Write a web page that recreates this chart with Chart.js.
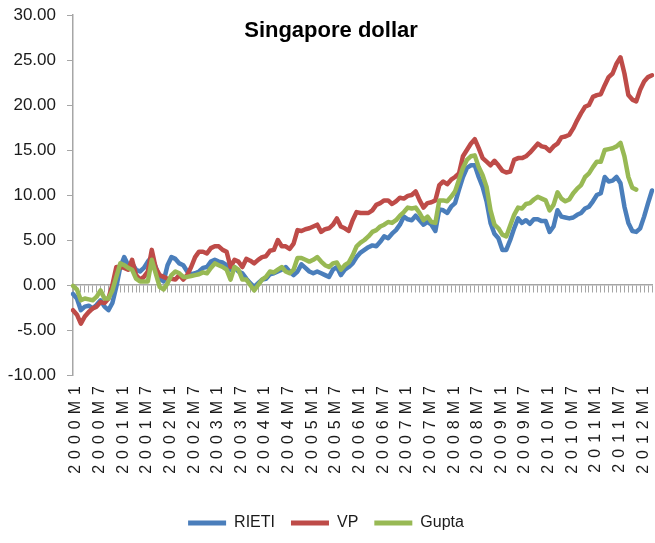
<!DOCTYPE html>
<html>
<head>
<meta charset="utf-8">
<script src="https://cdn.jsdelivr.net/npm/chart.js@4.4.0/dist/chart.umd.min.js"></script>
<style>
  html, body { margin: 0; padding: 0; background: #fff; }
  #wrap { position: relative; width: 655px; height: 543px; }
  #title {
    position: absolute; left: 0; top: 17px; width: 662px; text-align: center;
    font: bold 22px "Liberation Sans", sans-serif; color: #000;
  }
</style>
</head>
<body>
<div id="wrap">
  <canvas id="chart" width="655" height="543"></canvas>
  <div id="title">Singapore dollar</div>
</div>
<script>
// monthly, 2000M1 .. 2012M4
const firstYear = 2000;
const monthCount = 148;

const rieti = [
  -1.0, -1.5, -2.8, -2.4, -2.3, -2.6, -2.2, -1.7, -2.4, -2.8, -2.0, -0.2,
  2.0, 3.1, 2.2, 2.4, 1.7, 1.5, 1.9, 2.6, 3.1, 2.0, 0.7, 0.4,
  2.2, 3.1, 2.9, 2.4, 2.2, 1.5, 1.2, 1.3, 1.5, 1.9, 2.0, 2.6,
  2.8, 2.6, 2.5, 2.2, 1.7, 2.0, 1.5, 1.3, 0.7, 0.2, -0.2, 0.2,
  0.6, 0.7, 1.2, 1.3, 1.5, 1.7, 2.0, 1.5, 1.1, 1.5, 2.3, 1.9,
  1.5, 1.3, 1.5, 1.3, 1.1, 0.9, 1.7, 2.0, 1.1, 1.7, 2.0, 2.4,
  3.1, 3.6, 3.9, 4.2, 4.4, 4.3, 4.8, 5.4, 5.2, 5.7, 6.1, 6.7,
  7.6, 7.3, 7.2, 7.7, 7.2, 6.7, 7.0, 6.7, 6.0, 8.4, 8.3, 8.0,
  8.7, 9.1, 10.6, 12.0, 13.0, 13.3, 13.3, 12.0, 10.9, 9.3, 6.9, 5.7,
  5.2, 3.9, 3.9, 5.0, 6.3, 7.4, 6.9, 7.2, 6.8, 7.3, 7.3, 7.1,
  7.1, 5.9, 6.5, 8.3, 7.6, 7.5, 7.4, 7.5, 7.8, 8.0, 8.5, 8.7,
  9.3, 10.0, 10.2, 12.0, 11.5, 11.6, 12.0, 11.3, 8.7, 6.9, 6.0, 5.9,
  6.3, 7.6, 9.1, 10.5
];

const vp = [
  -2.8, -3.3, -4.3, -3.5, -3.0, -2.6, -2.4, -1.9, -2.0, -1.5, 0.0, 2.0,
  2.0, 1.9, 1.7, 2.8, 1.1, 0.6, 0.9, 1.5, 3.9, 1.9, 1.1, 0.9,
  0.7, 0.7, 0.6, 1.1, 0.6, 1.1, 2.0, 3.1, 3.7, 3.7, 3.5, 4.1,
  4.3, 4.3, 3.9, 3.7, 2.0, 2.8, 2.6, 2.0, 2.9, 2.7, 2.4, 2.8,
  3.1, 3.2, 3.8, 3.9, 5.0, 4.3, 4.3, 4.0, 4.6, 6.1, 6.0, 6.2,
  6.3, 6.5, 6.7, 5.9, 6.2, 6.3, 6.7, 7.4, 6.5, 6.3, 6.0, 7.2,
  8.1, 8.0, 8.0, 8.0, 8.3, 8.9, 9.1, 9.4, 9.4, 9.0, 9.3, 9.7,
  9.6, 9.9, 10.0, 10.4, 9.4, 8.6, 9.1, 9.2, 9.4, 11.1, 11.5, 11.2,
  11.7, 12.0, 12.4, 14.3, 15.0, 15.7, 16.2, 15.2, 14.1, 13.7, 13.3, 13.8,
  13.3, 12.7, 12.5, 12.6, 13.9, 14.1, 14.1, 14.3, 14.7, 15.2, 15.7, 15.4,
  15.3, 14.9, 15.4, 15.7, 16.4, 16.5, 16.7, 17.4, 18.3, 19.1, 19.8, 20.0,
  20.9, 21.1, 21.2, 22.2, 23.1, 23.5, 24.6, 25.3, 23.5, 21.1, 20.6, 20.4,
  21.7, 22.6, 23.1, 23.3
];

const gupta = [
  -0.1, -0.5, -1.7, -1.5, -1.6, -1.7, -1.3, -0.6, -1.5, -1.5, -0.6, 0.9,
  2.4, 2.2, 1.9, 1.7, 0.7, 0.4, 0.4, 0.4, 2.8, 1.3, -0.2, -0.5,
  0.2, 1.1, 1.5, 1.3, 0.9, 0.9, 1.0, 1.1, 1.2, 1.4, 1.3, 1.9,
  2.4, 2.2, 2.0, 1.7, 0.6, 2.0, 1.7, 0.6, 0.6, 0.0, -0.6, 0.0,
  0.6, 0.9, 1.5, 1.4, 1.7, 2.0, 1.5, 1.3, 1.7, 3.0, 3.0, 2.8,
  2.6, 2.8, 3.1, 2.6, 2.2, 2.0, 2.4, 2.5, 1.7, 2.2, 2.5, 3.3,
  4.3, 4.7, 5.0, 5.4, 5.9, 6.1, 6.5, 6.7, 7.0, 6.9, 7.2, 7.7,
  8.1, 8.6, 8.5, 8.6, 8.0, 7.2, 7.6, 7.0, 6.9, 9.4, 9.4, 9.3,
  9.8, 10.4, 11.7, 13.0, 13.9, 14.3, 14.4, 13.1, 12.2, 10.9, 8.3, 6.7,
  6.3, 5.6, 5.4, 6.6, 7.8, 8.6, 8.5, 9.0, 9.1, 9.5, 9.8, 9.6,
  9.4, 8.3, 8.9, 10.3, 9.6, 9.3, 9.5, 10.2, 10.7, 11.1, 12.0, 12.4,
  13.1, 13.7, 13.7, 15.0, 15.1, 15.2, 15.4, 15.8, 14.3, 12.0, 10.8, 10.6
];

const months = [];
for (let i = 0; i < monthCount; i++) {
  months.push((firstYear + Math.floor(i / 12)) + 'M' + (i % 12 + 1));
}

const yTicks = { min: -10, max: 30, step: 5 };

// category axis whose labels are drawn letter-spaced, like the Excel original
const BaseCategory = Chart.CategoryScale || Chart.registry.getScale('category');
class SpacedCategory extends BaseCategory {
  drawLabels(area) {
    this.ctx.save();
    this.ctx.letterSpacing = '6px';
    super.drawLabels(area);
    this.ctx.restore();
  }
}
SpacedCategory.id = 'spacedCategory';
SpacedCategory.defaults = BaseCategory.defaults;
Chart.register(SpacedCategory);

const sans = "'Liberation Sans', sans-serif";
const axisGrey = '#a6a6a6';
const textCol = '#1a1a1a';

function line(label, data, color, order) {
  return {
    label: label, data: data, order: order,
    borderColor: color, backgroundColor: color,
    borderWidth: 4.5, pointRadius: 0, pointHoverRadius: 0, tension: 0,
    borderJoinStyle: 'round', borderCapStyle: 'round'
  };
}

new Chart(document.getElementById('chart'), {
  type: 'line',
  data: {
    labels: months,
    datasets: [
      line('RIETI', rieti, '#4a7ebb', 3),
      line('VP', vp, '#be4b48', 2),
      line('Gupta', gupta, '#98b954', 1)
    ]
  },
  options: {
    responsive: false,
    animation: false,
    devicePixelRatio: 1,
    layout: { padding: { top: 15, right: 3, left: 0, bottom: 2 } },
    plugins: {
      tooltip: { enabled: false },
      legend: {
        position: 'bottom',
        labels: {
          boxWidth: 38, boxHeight: 5, padding: 16, color: textCol,
          font: { family: sans, size: 16 },
          sort: (a, b) => a.datasetIndex - b.datasetIndex,
          generateLabels: chart => Chart.defaults.plugins.legend.labels.generateLabels(chart)
            .map(l => Object.assign(l, { fillStyle: l.strokeStyle, lineWidth: 0 }))
        }
      }
    },
    scales: {
      x: {
        type: 'spacedCategory',
        position: 'bottom',
        offset: false,
        grid: { display: false, drawTicks: false },
        border: { display: false },
        ticks: {
          autoSkip: false, minRotation: 90, maxRotation: 90, padding: 5, labelOffset: 3,
          color: textCol, font: { family: sans, size: 16 },
          callback: function (v, i) { return i % 6 === 0 ? this.getLabelForValue(v) : null; }
        },
        afterFit: s => { s.height = 124; s.paddingLeft = 0; s.paddingRight = 0; }
      },
      x0: {
        type: 'category',
        position: { y: 0 },
        offset: false,
        ticks: { display: false },
        grid: { drawOnChartArea: false, drawTicks: true, tickLength: 7, color: axisGrey },
        border: { color: axisGrey, width: 1.5 }
      },
      y: {
        min: yTicks.min, max: yTicks.max,
        ticks: {
          stepSize: yTicks.step, padding: 11, color: textCol,
          font: { family: sans, size: 17 },
          callback: v => v.toFixed(2)
        },
        grid: { drawOnChartArea: false, drawTicks: true, tickLength: 6, color: axisGrey },
        border: { color: axisGrey, width: 1.5 },
        afterFit: s => { s.width = 73; s.paddingTop = 0; s.paddingBottom = 0; }
      }
    }
  }
});
</script>
</body>
</html>
